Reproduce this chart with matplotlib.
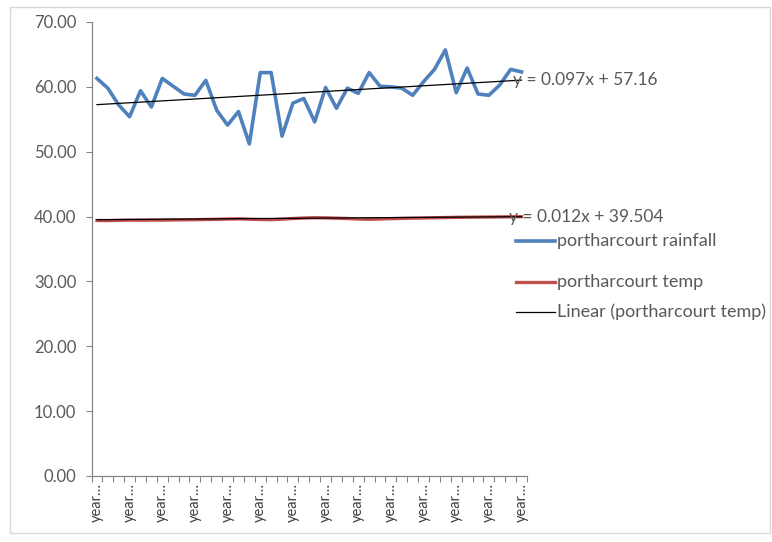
import matplotlib
matplotlib.use("Agg")
import matplotlib.pyplot as plt
from matplotlib.lines import Line2D
from matplotlib.patches import Rectangle
import numpy as np

plt.rcParams['font.family'] = ['Lato', 'DejaVu Sans']

# Annual series for Port Harcourt (40 years)
rainfall = [61.3, 59.8, 57.2, 55.4, 59.4, 56.9, 61.3, 60.1, 58.9, 58.7,
            61.0, 56.4, 54.1, 56.2, 51.2, 62.2, 62.2, 52.4, 57.5, 58.2,
            54.6, 59.9, 56.7, 59.8, 59.0, 62.2, 60.1, 60.0, 59.8, 58.7,
            60.8, 62.7, 65.7, 59.1, 62.9, 58.9, 58.7, 60.3, 62.7, 62.3]
temp = [39.40, 39.38, 39.42, 39.45, 39.44, 39.46, 39.45, 39.48, 39.50, 39.52,
        39.55, 39.58, 39.62, 39.65, 39.60, 39.55, 39.52, 39.60, 39.70, 39.78,
        39.82, 39.80, 39.75, 39.70, 39.62, 39.58, 39.62, 39.68, 39.72, 39.75,
        39.78, 39.82, 39.85, 39.88, 39.90, 39.92, 39.93, 39.95, 39.97, 39.98]

# Trendline coefficients (slope, intercept)
rain_fit = (0.097, 57.16)
temp_fit = (0.012, 39.504)

year_labels = ["year\u2026"] * 14
label_step = 3

y_ticks = [0, 10, 20, 30, 40, 50, 60, 70]

blue = "#4F81BD"
red = "#C0504D"
grey_text = "#595959"
axis_grey = "#868686"

W, H = 772, 542
fig = plt.figure(figsize=(W / 100, H / 100), dpi=100)
fig.patch.set_facecolor("white")


def fx(px):
    return px / W


def fy(py):
    return 1 - py / H


ax = fig.add_axes([fx(91.5), fy(476), fx(527) - fx(91.5), fy(22) - fy(476)])

n = len(rainfall)
x = np.arange(1, n + 1)

ax.plot(x, rainfall, color=blue, lw=2.6, solid_joinstyle="round", zorder=3)
ax.plot(x, temp, color=red, lw=2.4, solid_joinstyle="round", zorder=3)

trend_x = np.array([1, n])
ax.plot(trend_x, rain_fit[0] * trend_x + rain_fit[1], color="black", lw=0.9, zorder=4)
ax.plot(trend_x, temp_fit[0] * trend_x + temp_fit[1], color="black", lw=0.9, zorder=4)

ax.set_xlim(0.5, n + 0.5)
ax.set_ylim(0, 70)

ax.set_yticks(y_ticks)
ax.set_yticklabels([f"{v:.2f}" for v in y_ticks], fontsize=12, color=grey_text)

label_pos = np.arange(1, n + 1, label_step)
ax.set_xticks(label_pos)
ax.set_xticklabels(year_labels, rotation=90, fontsize=10.5, color="#404040")
ax.set_xticks(np.arange(0.5, n + 1), minor=True)
ax.tick_params(axis="x", which="major", length=0, pad=5)
ax.tick_params(axis="x", which="minor", length=4, color=axis_grey, width=0.8)
ax.tick_params(axis="y", length=4, color=axis_grey, width=0.8, pad=7)

for side in ("top", "right"):
    ax.spines[side].set_visible(False)
for side in ("left", "bottom"):
    ax.spines[side].set_color(axis_grey)
    ax.spines[side].set_linewidth(0.9)

# Trendline equations
ax.text(n - 0.75, rain_fit[0] * n + rain_fit[1], "y = %.3fx + %.2f" % rain_fit,
        fontsize=12.5, color=grey_text, va="center", ha="left", zorder=5)
ax.text(n - 1.15, temp_fit[0] * n + temp_fit[1], "y = %.3fx + %.3f" % temp_fit,
        fontsize=12.5, color=grey_text, va="center", ha="left", zorder=5)

# Legend entries
legend_items = [
    ("portharcourt rainfall", blue, 2.6, 241),
    ("portharcourt temp", red, 2.4, 282),
    ("Linear (portharcourt temp)", "black", 0.9, 312),
]
for label, color, lw, py in legend_items:
    fig.add_artist(Line2D([fx(516), fx(555)], [fy(py), fy(py)], color=color, lw=lw,
                          transform=fig.transFigure))
    fig.text(fx(557), fy(py), label, fontsize=13, color=grey_text, va="center", ha="left")

# Chart border
fig.add_artist(Rectangle((fx(10), fy(533)), fx(770) - fx(10), fy(7) - fy(533),
                         transform=fig.transFigure, fill=False, edgecolor="#D9D9D9", lw=1))

fig.savefig("out.png", dpi=100)
